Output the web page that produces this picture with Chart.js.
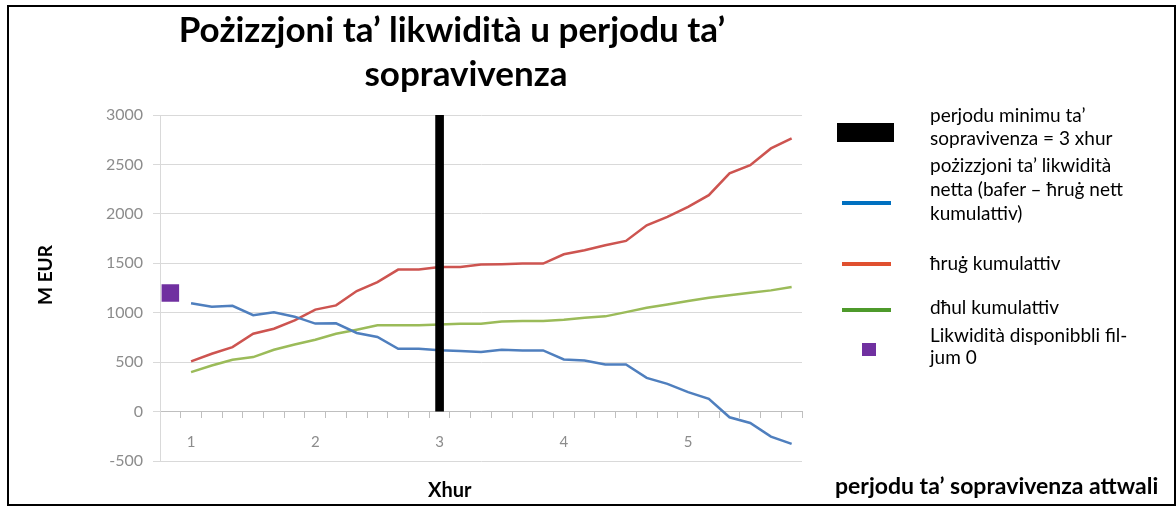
<!DOCTYPE html>
<html>
<head>
<meta charset="utf-8">
<script src="https://cdn.jsdelivr.net/npm/chart.js@4.4.1/dist/chart.umd.min.js"></script>
<style>
  html, body { margin: 0; padding: 0; background: #fff; }
  #wrap { position: relative; width: 1176px; height: 507px; overflow: hidden; font-family: Lato, "Liberation Sans", sans-serif; color: #000; }
  #c { position: absolute; left: 0; top: 0; }
  .frame { position: absolute; left: 7px; top: 5px; width: 1169px; height: 501px; box-sizing: border-box; border: 2px solid #000; }
  .t { position: absolute; white-space: nowrap; }
  .title { left: 0; width: 904px; text-align: center; font-weight: bold; font-size: 35px; line-height: 36px; }
  .leg { left: 930px; font-size: 19px; line-height: 23px; }
  .mk { position: absolute; }
</style>
</head>
<body>
<div id="wrap">
  <canvas id="c" width="1176" height="507"></canvas>
  <div class="frame"></div>
  <div class="t title" style="top:10px;">Pożizzjoni ta’ likwidità u perjodu ta’</div>
  <div class="t title" style="top:54px; left:14px;">sopravivenza</div>

  <div class="mk" style="left:837px; top:123px; width:57px; height:19px; background:#000;"></div>
  <div class="t leg" style="top:103px;">perjodu minimu ta’<br>sopravivenza = 3 xhur</div>

  <div class="mk" style="left:842px; top:201px; width:49px; height:4px; background:#0070C0;"></div>
  <div class="t leg" style="top:153px; line-height:24px;">pożizzjoni ta’ likwidità<br>netta (bafer – ħruġ nett<br>kumulattiv)</div>

  <div class="mk" style="left:842px; top:262px; width:49px; height:4px; background:#E0502F;"></div>
  <div class="t leg" style="top:251px;">ħruġ kumulattiv</div>

  <div class="mk" style="left:842px; top:308px; width:49px; height:4px; background:#4E9A2B;"></div>
  <div class="t leg" style="top:295px;">dħul kumulattiv</div>

  <div class="mk" style="left:862px; top:343px; width:14px; height:13px; background:#7030A0;"></div>
  <div class="t leg" style="top:324px; line-height:22px;">Likwidità disponibbli fil-<br>jum 0</div>

  <div class="t" style="left:428px; top:477px; font-weight:bold; font-size:20px; line-height:24px;">Xhur</div>
  <div class="t" style="left:44px; top:275px; font-weight:bold; font-size:19px; transform:translate(-50%,-50%) rotate(-90deg);">M EUR</div>
  <div class="t" style="left:835px; top:472px; font-weight:bold; font-size:23px; line-height:27px;">perjodu ta’ sopravivenza attwali</div>
</div>
<script>
// Categories: index 0 = day 0, then 30 periods; month labels every 6 periods
const categories = ['', '1', '', '', '', '', '', '2', '', '', '', '', '', '3', '', '', '', '', '', '4', '', '', '', '', '', '5', '', '', '', '', ''];
const yTicks = [-500, 0, 500, 1000, 1500, 2000, 2500, 3000];

const netLiquidity = [null, 1095, 1060, 1070, 975, 1005, 960, 890, 893, 795, 755, 635, 635, 620, 612, 602, 625, 618, 618, 527, 517, 476, 476, 341, 280, 196, 129, -58, -115, -253, -327];
const cumulativeOutflows = [null, 507, 585, 652, 787, 838, 922, 1031, 1074, 1219, 1310, 1436, 1436, 1463, 1463, 1487, 1490, 1497, 1497, 1591, 1632, 1682, 1726, 1885, 1969, 2071, 2189, 2409, 2493, 2662, 2764];
const cumulativeInflows = [null, 399, 466, 524, 551, 625, 679, 727, 787, 828, 872, 872, 872, 880, 889, 889, 912, 915, 915, 929, 950, 963, 1006, 1051, 1084, 1118, 1152, 1176, 1203, 1226, 1260];
const liquidityDay0 = [1200];
const minSurvivalMarker = [null, null, null, null, null, null, null, null, null, null, null, null, null, 3000];

const grayTick = '#8c8c8c';
const gridCol = '#d9d9d9';

new Chart(document.getElementById('c'), {
  data: {
    labels: categories,
    datasets: [
      { type: 'line', label: 'Likwidità disponibbli fil-jum 0', data: liquidityDay0, showLine: false,
        pointStyle: 'rect', pointRadius: 12.4, pointBackgroundColor: '#7030A0', pointBorderWidth: 0, order: 0 },
      { type: 'bar', label: 'perjodu minimu ta’ sopravivenza = 3 xhur', data: minSurvivalMarker,
        backgroundColor: '#000', barThickness: 8, order: 1 },
      { type: 'line', label: 'pożizzjoni ta’ likwidità netta', data: netLiquidity, borderColor: '#4F7FBE',
        borderWidth: 2.5, pointRadius: 0, tension: 0, order: 2 },
      { type: 'line', label: 'ħruġ kumulattiv', data: cumulativeOutflows, borderColor: '#CD5450',
        borderWidth: 2.5, pointRadius: 0, tension: 0, order: 3 },
      { type: 'line', label: 'dħul kumulattiv', data: cumulativeInflows, borderColor: '#9BBB59',
        borderWidth: 2.5, pointRadius: 0, tension: 0, order: 4 }
    ]
  },
  options: {
    responsive: false,
    animation: false,
    events: [],
    layout: { padding: { left: 60, right: 374, top: 115, bottom: 46 } },
    plugins: { legend: { display: false }, tooltip: { enabled: false }, title: { display: false } },
    scales: {
      x: {
        type: 'category',
        position: { y: 0 },
        offset: true,
        grid: { offset: true, drawOnChartArea: false, drawTicks: true, tickLength: 6, color: '#bfbfbf' },
        border: { display: true, color: '#bfbfbf', width: 1 },
        ticks: { autoSkip: false, maxRotation: 0, minRotation: 0, padding: 16, color: grayTick,
                 font: { family: 'Lato', size: 15 } }
      },
      y: {
        min: -500, max: 3000,
        afterBuildTicks: (s) => { s.ticks = yTicks.map(v => ({ value: v })); },
        afterFit: (s) => { s.width = 100; },
        grid: { color: gridCol, tickLength: 7, lineWidth: 1 },
        border: { display: true, color: gridCol },
        ticks: { padding: 10, color: grayTick, font: { family: 'Lato', size: 16 },
                 callback: (v) => String(v) }
      }
    }
  }
});
</script>
</body>
</html>
